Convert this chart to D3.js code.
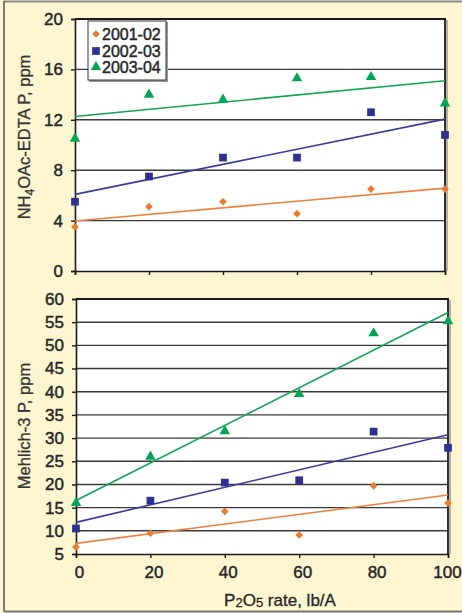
<!DOCTYPE html>
<html><head><meta charset="utf-8">
<script src="https://cdn.jsdelivr.net/npm/d3@7"></script>
<style>html,body{margin:0;padding:0;background:#fdf6d1;}svg{display:block;}</style>
</head><body>
<script>
// ---- data ----
const rates = [0, 20, 40, 60, 80, 100];
const seriesNames = ["2001-02", "2002-03", "2003-04"];
const nh4_2001 = [3.5, 5.1, 5.5, 4.55, 6.5, 6.5];
const nh4_2002 = [5.5, 7.5, 9.0, 9.0, 12.6, 10.8];
const nh4_2003 = [10.5, 14.0, 13.6, 15.3, 15.4, 13.3];
const meh_2001 = [6.5, 9.5, 14.2, 9.1, 19.7, 16.0];
const meh_2002 = [10.5, 16.5, 20.4, 20.9, 31.4, 27.9];
const meh_2003 = [16.0, 26.0, 31.5, 39.5, 52.6, 55.2];
const xTicks = [0, 20, 40, 60, 80, 100];
const topTicks = [0, 4, 8, 12, 16, 20];
const botTicks = [5, 10, 15, 20, 25, 30, 35, 40, 45, 50, 55, 60];

const colors = ["#ec7a30", "#2e3192", "#00a651"];
const lineColors = ["#ef8040", "#3a3a9a", "#12a556"];
const shapes = ["diamond", "square", "triangle"];

const W = 462, H = 613;
const svg = d3.select("body").append("svg").attr("width", W).attr("height", H);
const FONT = "Liberation Sans, Arial, Helvetica, sans-serif";
const TXT = "#262626";

svg.append("rect").attr("width", W).attr("height", H).attr("fill", "#fdf6d1");
// outer frame
svg.append("line").attr("x1", 4).attr("x2", W).attr("y1", 1.5).attr("y2", 1.5).attr("stroke", "#8a8a8a").attr("stroke-width", 2);
svg.append("line").attr("x1", 4).attr("x2", 4).attr("y1", 1).attr("y2", 612).attr("stroke", "#555").attr("stroke-width", 1.5);
svg.append("line").attr("x1", 4).attr("x2", W).attr("y1", 611.5).attr("y2", 611.5).attr("stroke", "#777").attr("stroke-width", 2);

function fit(ys) {
  const n = rates.length;
  const mx = d3.mean(rates), my = d3.mean(ys);
  let sxy = 0, sxx = 0;
  for (let i = 0; i < n; i++) { sxy += (rates[i] - mx) * (ys[i] - my); sxx += (rates[i] - mx) ** 2; }
  const b = sxy / sxx;
  return { a: my - b * mx, b };
}

function symbolPath(shape) {
  if (shape === "diamond") return d3.symbol(d3.symbolSquare, 30)();
  if (shape === "square") return d3.symbol(d3.symbolSquare, 60)();
  return d3.symbol(d3.symbolTriangle, 48)();
}
function drawMarker(g, shape, color, x, y) {
  g.append("path").attr("d", symbolPath(shape))
    .attr("transform", `translate(${x},${y})` + (shape === "diamond" ? " rotate(45)" : ""))
    .attr("fill", color);
}
function styleText(sel, size) {
  sel.attr("font-family", FONT).attr("font-size", size).attr("fill", TXT)
    .attr("stroke", TXT).attr("stroke-width", 0.45);
}

function panel(opt) {
  const x = d3.scaleLinear().domain([0, 100]).range([opt.x0, opt.x1]);
  const y = d3.scaleLinear().domain(opt.ydom).range([opt.y1, opt.y0]);
  const g = svg.append("g");
  g.append("rect").attr("x", opt.x0).attr("y", opt.y0).attr("width", opt.x1 - opt.x0).attr("height", opt.y1 - opt.y0).attr("fill", "#fff");
  // gridlines
  g.selectAll(".grid").data(opt.ticks.filter(t => t !== opt.ydom[0] && t !== opt.ydom[1])).enter()
    .append("line").attr("x1", opt.x0).attr("x2", opt.x1)
    .attr("y1", d => y(d)).attr("y2", d => y(d))
    .attr("stroke", "#3a3a3a").attr("stroke-width", 1.4);
  // frame: shadow, top, right
  g.append("line").attr("x1", opt.x1 + 2).attr("x2", opt.x1 + 2).attr("y1", opt.y0 + 1).attr("y2", opt.y1).attr("stroke", "#9a9a9a").attr("stroke-width", 1.5);
  g.append("line").attr("x1", opt.x0).attr("x2", opt.x1 + 1).attr("y1", opt.y0).attr("y2", opt.y0).attr("stroke", "#1a1a1a").attr("stroke-width", 2);
  g.append("line").attr("x1", opt.x1).attr("x2", opt.x1).attr("y1", opt.y0).attr("y2", opt.y1).attr("stroke", "#1a1a1a").attr("stroke-width", 1.8);
  // axes
  const ya = g.append("g").attr("transform", `translate(${opt.x0},0)`)
    .call(d3.axisLeft(y).tickValues(opt.ticks).tickSize(4).tickPadding(8).tickFormat(d3.format("d")));
  ya.select(".domain").attr("stroke", "#1a1a1a").attr("stroke-width", 1.6);
  ya.selectAll(".tick line").attr("stroke", "#1a1a1a").attr("stroke-width", 1.4);
  styleText(ya.selectAll("text"), 17);
  const xa = g.append("g").attr("transform", `translate(0,${opt.y1})`)
    .call(d3.axisBottom(x).tickValues(xTicks).tickSize(4).tickPadding(8).tickFormat(opt.showX ? d3.format("d") : ""));
  xa.select(".domain").attr("stroke", "#1a1a1a").attr("stroke-width", 1.6);
  xa.selectAll(".tick line").attr("stroke", "#1a1a1a").attr("stroke-width", 1.4);
  styleText(xa.selectAll("text"), 17);
  xa.selectAll("text").attr("dx", d => d === 100 ? -1 : 3);
  // series
  opt.series.forEach((ys, i) => {
    const f = fit(ys);
    g.append("line").attr("x1", x(0)).attr("x2", x(100))
      .attr("y1", y(f.a)).attr("y2", y(f.a + f.b * 100))
      .attr("stroke", lineColors[i]).attr("stroke-width", 1.6);
  });
  opt.series.forEach((ys, i) => {
    ys.forEach((v, j) => drawMarker(g, shapes[i], colors[i], x(rates[j]), y(v)));
  });
  // y title
  const t = svg.append("text").attr("transform", `translate(30,${opt.titleY}) rotate(-90)`)
    .attr("text-anchor", "middle");
  styleText(t, 16.5);
  t.attr("fill", "#333").attr("stroke", "#333").attr("stroke-width", 0.3);
  opt.title(t);
  return { x, y };
}

panel({
  x0: 75, x1: 445, y0: 19, y1: 271, ydom: [0, 20], ticks: topTicks, showX: false,
  series: [nh4_2001, nh4_2002, nh4_2003], titleY: 137,
  title: t => {
    t.append("tspan").text("NH");
    t.append("tspan").text("4").attr("font-size", 12).attr("baseline-shift", "-4");
    t.append("tspan").text("OAc-EDTA P, ppm");
  }
});
panel({
  x0: 76, x1: 448, y0: 299, y1: 554, ydom: [5, 60], ticks: botTicks, showX: true,
  series: [meh_2001, meh_2002, meh_2003], titleY: 426,
  title: t => t.text("Mehlich-3 P, ppm")
});

// x title
const xt = svg.append("text").attr("x", 280).attr("y", 606).attr("text-anchor", "middle");
styleText(xt, 17);
xt.attr("stroke-width", 0.3);
xt.append("tspan").text("P");
xt.append("tspan").text("2").attr("font-size", 13).attr("baseline-shift", "-1");
xt.append("tspan").text("O");
xt.append("tspan").text("5").attr("font-size", 13).attr("baseline-shift", "-1");
xt.append("tspan").text(" rate, lb/A");

// legend
const lg = svg.append("g");
lg.append("rect").attr("x", 89).attr("y", 22).attr("width", 79).attr("height", 60).attr("fill", "#9a9a9a");
lg.append("rect").attr("x", 88).attr("y", 21).attr("width", 78).attr("height", 59).attr("fill", "#fff").attr("stroke", "#333").attr("stroke-width", 1);
const rowY = [34, 51, 67];
seriesNames.forEach((name, i) => {
  drawMarker(lg, shapes[i], colors[i], 96, rowY[i]);
  const tx = lg.append("text").attr("x", 102).attr("y", rowY[i] + 5.5).text(name);
  styleText(tx, 16);
});
</script>
</body></html>
